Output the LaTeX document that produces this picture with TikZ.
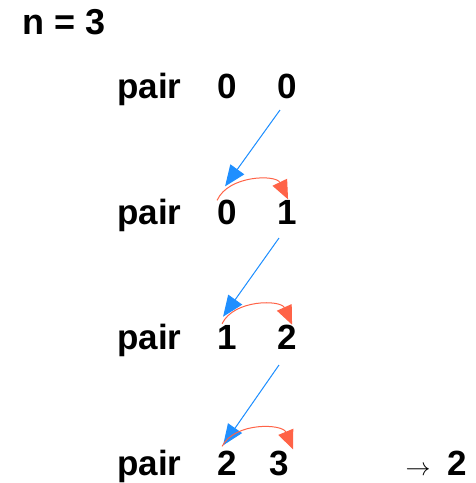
\documentclass[tikz,border=0pt]{standalone}
\usepackage{fontspec}
\setmainfont{Liberation Sans}
\usetikzlibrary{arrows.meta,calc}
\definecolor{StepClr}{rgb}{0.12,0.56,1}
\definecolor{SwapClr}{rgb}{1,0.39,0.28}

\tikzset{
  txt/.style={font=\fontsize{35}{42}\selectfont\bfseries, inner sep=0pt, anchor=base},
  step down/.style={draw=StepClr, line width=1pt, -{Triangle[length=21pt,width=17pt]}, fill=StepClr},
  step over/.style={draw=SwapClr, line width=1pt, -{Triangle[length=19pt,width=16pt,fill=SwapClr]}}
}

\begin{document}
\begin{tikzpicture}[x=1pt,y=-1pt]
\useasboundingbox (0,0) rectangle (476,483);

\node[txt, anchor=base west, font=\fontsize{36}{42}\selectfont\bfseries] (nval) at (22,34) {n = 3};

\node[txt, anchor=base west] (pair1) at (117,98) {pair};
\node[txt] (a1) at (227,98) {0};
\node[txt] (b1) at (287,98) {0};

\node[txt, anchor=base west] (pair2) at (117,224) {pair};
\node[txt] (a2) at (227,224) {0};
\node[txt] (b2) at (287,224) {1};

\node[txt, anchor=base west] (pair3) at (117,349) {pair};
\node[txt] (a3) at (227,349) {1};
\node[txt] (b3) at (287,349) {2};

\node[txt, anchor=base west] (pair4) at (117,475) {pair};
\node[txt] (a4) at (227,475) {2};
\node[txt] (b4) at (279,475) {3};

\node[inner sep=0pt, anchor=base, font=\fontsize{24}{28}\selectfont] (arr) at (418,475) {$\rightarrow$};
\node[txt] (res) at (457,475) {2};

% next pair
\draw[step down] ($(b1.base)+(-7,12)$) -- ($(a2.north west)+(8,-13)$);
\draw[step down] ($(b2.base)+(-8,14)$) -- ($(a3.north west)+(6,-8)$);
\draw[step down] ($(b3.base)+(-8,16)$) -- ($(a4.north west)+(6,-5)$);

% shift
\draw[step over] ($(a2.north west)+(0,1)$) to[bend left=65] ($(a2.north west)+(71,0)$);
\draw[step over] ($(a3.north west)+(5,-1)$) to[bend left=65] ($(a3.north west)+(75,0)$);
\draw[step over] ($(a4.north west)+(5,-4)$) to[bend left=65] ($(a4.north west)+(76,-1)$);

\end{tikzpicture}
\end{document}
